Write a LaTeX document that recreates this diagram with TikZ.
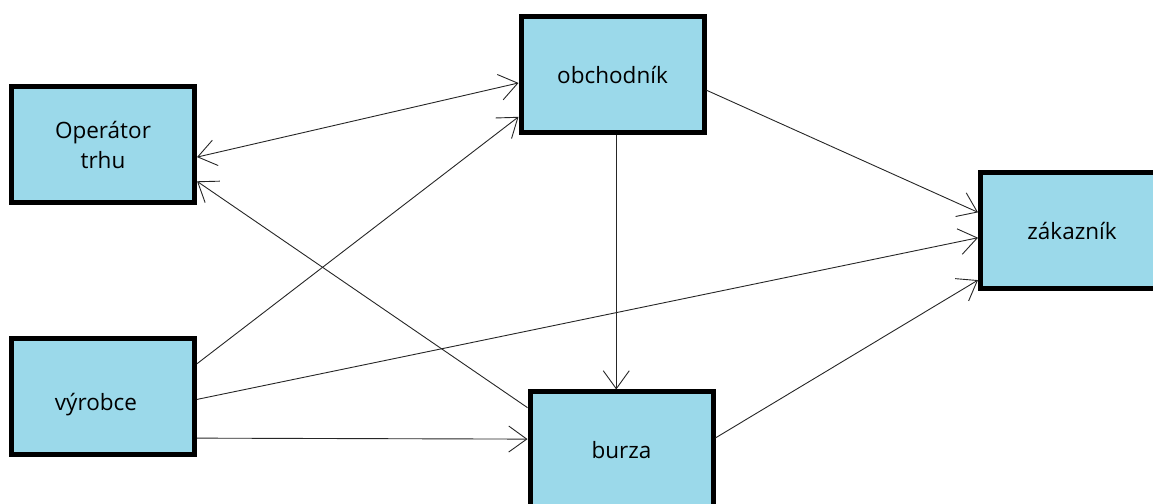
\documentclass[tikz,border=0pt]{standalone}
\usepackage{fontspec}
\setmainfont{Open Sans}
\usetikzlibrary{positioning,calc,arrows.meta}
\definecolor{boxblue}{RGB}{155,217,234}

\begin{document}
\begin{tikzpicture}[
        x=1pt, y=1pt,
        >={Straight Barb[length=18pt,width=26pt]},
        box/.style={draw, line width=5pt, fill=boxblue, align=center, minimum width=183pt, minimum height=116pt, font=\fontsize{22.5}{30}\selectfont},
        link/.style={line width=0.9pt, draw=black!85}
      ]
      \path[use as bounding box, clip] (0,0) rectangle (1153,503);

      \node (OT) at (103,358) [box] {Operátor\\trhu};
      \node (VY) [node distance=131pt, below=of OT, box, text height=32pt, text depth=4pt] {\hspace*{-14pt}výrobce};
      \node (OB) at (612.5,428.5) [box] {obchodník};
      \node (BZ) at (621.5,53) [box] {burza};
      \node (ZK) at (1072,272.5) [box] {zákazník};

      \coordinate (OBs) at ($(OB.south west)!0.52!(OB.south east)$);

      \path[link]
        ($(OT.north east)!0.6!(OT.south east)$) edge[<->] ($(OB.north west)!0.57!(OB.south west)$)
        ($(VY.north east)!0.225!(VY.south east)$) edge[->] ($(OB.north west)!0.85!(OB.south west)$)
        ($(BZ.north west)!0.15!(BZ.south west)$) edge[->] ($(OT.north east)!0.8!(OT.south east)$)
        ($(VY.north east)!0.52!(VY.south east)$) edge[->] ($(ZK.north west)!0.56!(ZK.south west)$)
        ($(VY.north east)!0.84!(VY.south east)$) edge[->] ($(BZ.north west)!0.41!(BZ.south west)$)
        (OBs) edge[->] (OBs |- BZ.north)
        ($(OB.north east)!0.63!(OB.south east)$) edge[->] ($(ZK.north west)!0.35!(ZK.south west)$)
        ($(BZ.north east)!0.4!(BZ.south east)$) edge[->] ($(ZK.north west)!0.91!(ZK.south west)$);
\end{tikzpicture}
\end{document}
